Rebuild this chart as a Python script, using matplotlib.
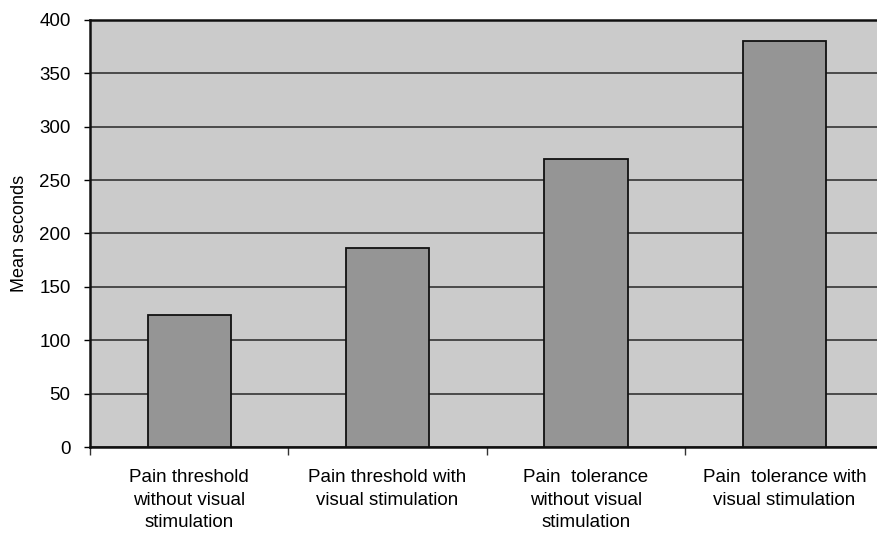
import matplotlib.pyplot as plt
import numpy as np

plt.rcParams['font.family'] = ['Liberation Sans', 'DejaVu Sans']

categories = ["Pain threshold\nwithout visual\nstimulation",
              "Pain threshold with\nvisual stimulation",
              "Pain  tolerance\nwithout visual\nstimulation",
              "Pain  tolerance with\nvisual stimulation"]
mean_seconds = [124, 186, 270, 380]
yticks = [0, 50, 100, 150, 200, 250, 300, 350, 400]

fig = plt.figure(figsize=(8.77, 5.36), dpi=100)
ax = fig.add_axes([0.1026, 0.166, 0.905, 0.797])

x = np.arange(len(categories)) + 0.5
ax.set_facecolor('#cbcbcb')
ax.bar(x, mean_seconds, width=0.42, color='#959595', edgecolor='#111111',
       linewidth=1.3, zorder=3)

ax.set_xlim(0, 4)
ax.set_ylim(0, 400)
ax.set_yticks(yticks)
ax.yaxis.grid(True, color='#4a4a4a', linewidth=1.4, zorder=1)
ax.set_axisbelow(True)

# category boundaries get the ticks, labels sit in the middle
ax.set_xticks([0, 1, 2, 3, 4])
ax.set_xticklabels([])
ax.set_xticks(x, minor=True)
ax.set_xticklabels(categories, minor=True, fontsize=13.5, linespacing=1.42)
ax.tick_params(axis='x', which='minor', length=0, pad=16)
ax.tick_params(axis='x', which='major', length=6, width=1, color='#333333')
ax.tick_params(axis='y', length=4, width=1, labelsize=13.5, pad=10)

for side in ['left', 'bottom', 'top']:
    ax.spines[side].set_linewidth(1.8)
    ax.spines[side].set_color('#111111')
ax.spines['right'].set_visible(False)

ax.set_ylabel('Mean seconds', fontsize=13, labelpad=8)

fig.savefig('out.png', dpi=100)
